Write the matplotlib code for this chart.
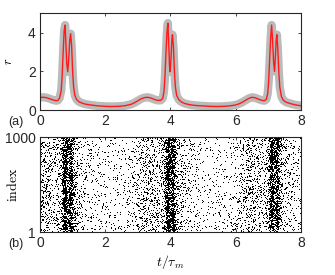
"""
Population rate r(t) and spike raster
"""
import numpy as np
import matplotlib
matplotlib.use("Agg")
import matplotlib.pyplot as plt

# rate r(t)
t_rate = [0.0, 0.1, 0.2, 0.3, 0.4, 0.5, 0.55, 0.6, 0.65, 0.68, 0.71, 0.74, 0.77, 0.79,
          0.82, 0.85, 0.88, 0.91, 0.94, 0.97, 1.0, 1.03, 1.07, 1.12, 1.2, 1.3, 1.4, 1.6,
          1.8, 2.0, 2.2, 2.4, 2.6, 2.8, 2.9, 3.0, 3.1, 3.2, 3.3, 3.4, 3.5, 3.6, 3.7,
          3.76, 3.8, 3.83, 3.86, 3.89, 3.92, 3.94, 3.97, 3.99, 4.02, 4.04, 4.06, 4.09,
          4.12, 4.15, 4.19, 4.25, 4.33, 4.45, 4.6, 4.8, 5.0, 5.2, 5.4, 5.6, 5.8, 6.0,
          6.1, 6.2, 6.3, 6.4, 6.5, 6.6, 6.7, 6.8, 6.88, 6.94, 6.98, 7.01, 7.04, 7.07,
          7.1, 7.13, 7.16, 7.19, 7.22, 7.24, 7.26, 7.29, 7.32, 7.35, 7.4, 7.46, 7.55,
          7.7, 7.85, 8.0]
r_rate = [0.65, 0.66, 0.64, 0.58, 0.52, 0.48, 0.50, 0.62, 1.0, 1.8, 3.0, 4.1, 4.4, 3.6,
          2.4, 1.98, 2.6, 3.6, 3.95, 3.3, 2.0, 1.2, 0.75, 0.55, 0.42, 0.35, 0.30, 0.25,
          0.21, 0.19, 0.18, 0.19, 0.22, 0.30, 0.38, 0.48, 0.58, 0.64, 0.66, 0.62, 0.55,
          0.50, 0.50, 0.60, 0.95, 1.7, 2.9, 4.0, 4.5, 3.7, 2.3, 1.98, 2.8, 3.6, 3.9,
          3.3, 2.0, 1.2, 0.75, 0.55, 0.42, 0.33, 0.27, 0.23, 0.21, 0.19, 0.18, 0.19,
          0.21, 0.26, 0.32, 0.40, 0.50, 0.60, 0.66, 0.63, 0.56, 0.50, 0.48, 0.56, 0.85,
          1.5, 2.6, 3.7, 4.4, 3.6, 2.5, 2.0, 2.9, 3.6, 3.9, 3.2, 2.0, 1.2, 0.7, 0.5,
          0.40, 0.32, 0.26, 0.22]
n_neurons = 1000
spikes_per_unit_rate = 1250

t_arr = np.array(t_rate)
r_arr = np.array(r_rate)

# spike raster: times follow r(t); dots scattered with a fixed hash sequence
cum = np.concatenate([[0], np.cumsum(np.diff(t_arr) * (r_arr[1:] + r_arr[:-1]) / 2)])
n_spk = int(cum[-1] * spikes_per_unit_rate)
j = np.arange(1, n_spk + 1)
u1 = np.abs(np.sin(j * 12.9898) * 43758.5453) % 1
u2 = np.abs(np.sin(j * 78.233 + 1.3) * 24634.6345) % 1
spk_t = np.interp(u1 * cum[-1], cum, t_arr)
spk_i = 1 + u2 * (n_neurons - 1)

plt.rcParams['mathtext.fontset'] = 'cm'
plt.rcParams['font.family'] = ['Liberation Sans', 'DejaVu Sans']
plt.rcParams['font.size'] = 9
tick_col = '#262626'

fig = plt.figure(figsize=(3.35, 2.75), dpi=100)
ax1 = fig.add_axes([0.1194, 0.6, 0.779, 0.351])
ax2 = fig.add_axes([0.1194, 0.156, 0.779, 0.345])

ax1.plot(t_arr, r_arr, color='#bbbbbb', linewidth=6, solid_capstyle='round')
ax1.plot(t_arr, r_arr, color='#ff1a1a', linewidth=1.0)
ax1.set_xlim(0, 8)
ax1.set_ylim(0, 5)
ax1.set_xticks([0, 2, 4, 6, 8])
ax1.set_yticks([0, 2, 4])
ax1.set_ylabel('$r$', fontsize=9)
ax1.yaxis.set_label_coords(-0.095, 0.5)

ax2.plot(spk_t, spk_i, ls='none', marker=',', color='k')
ax2.set_xlim(0, 8)
ax2.set_ylim(1, 1000)
ax2.set_xticks([0, 2, 4, 6, 8])
ax2.set_yticks([1, 1000])
ax2.set_ylabel(r'$\mathrm{index}$', fontsize=10)
ax2.yaxis.set_label_coords(-0.075, 0.5)
ax2.set_xlabel(r'$t/\tau_m$', fontsize=10, labelpad=2)

for ax in (ax1, ax2):
    ax.tick_params(direction='in', top=True, right=True, length=2.5, width=0.6,
                   colors=tick_col, labelsize=10, pad=3)
    for s in ax.spines.values():
        s.set_color(tick_col)
        s.set_linewidth(0.8)

fig.text(0.025, 0.545, '(a)', fontsize=9, color=tick_col)
fig.text(0.025, 0.1, '(b)', fontsize=9, color=tick_col)

plt.savefig('out.png', dpi=100)
